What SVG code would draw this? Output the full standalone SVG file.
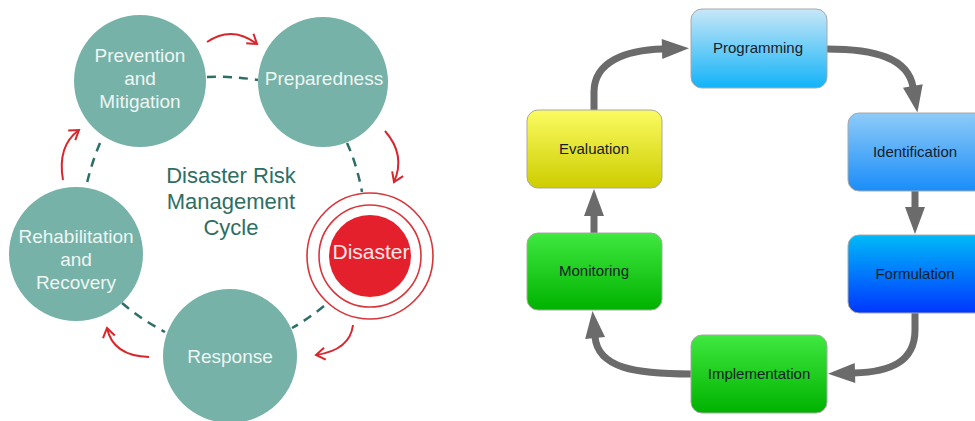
<svg xmlns="http://www.w3.org/2000/svg" width="975" height="421" viewBox="0 0 975 421">
<style>
.c{fill:#76b2a8}
.ct{font-family:"Liberation Sans",Arial,sans-serif;font-size:19px;fill:#eef6f3;text-anchor:middle}
.title{font-family:"Liberation Sans",Arial,sans-serif;font-size:22px;fill:#2e6e63;text-anchor:middle}
.dash{fill:none;stroke:#2f6e66;stroke-width:2.5;stroke-dasharray:9 7}
.red{fill:none;stroke:#d9262c;stroke-width:2;marker-end:url(#ra)}
.box{stroke:#a8a8a8;stroke-width:1}
.bt{font-family:"Liberation Sans",Arial,sans-serif;font-size:15px;fill:#15202a;text-anchor:middle}
.ga{fill:none;stroke:#6b6b6b;stroke-width:7;marker-end:url(#ga)}
</style>
<defs>
<marker id="ra" markerUnits="userSpaceOnUse" markerWidth="14" markerHeight="14" refX="11" refY="7" orient="auto" overflow="visible">
<path d="M2,1 L11,7 L2,13" fill="none" stroke="#d9262c" stroke-width="2"/>
</marker>
<marker id="ga" markerUnits="userSpaceOnUse" markerWidth="27" markerHeight="20" refX="1" refY="10" orient="auto" overflow="visible">
<path d="M0,0 L27,10 L0,20 z" fill="#6b6b6b"/>
</marker>
<linearGradient id="gProg" x1="0" y1="0" x2="0" y2="1"><stop offset="0" stop-color="#c8e7f7"/><stop offset="1" stop-color="#12b3f8"/></linearGradient>
<linearGradient id="gIden" x1="0" y1="0" x2="0" y2="1"><stop offset="0" stop-color="#8ecbf9"/><stop offset="1" stop-color="#1a8df8"/></linearGradient>
<linearGradient id="gForm" x1="0" y1="0" x2="0" y2="1"><stop offset="0" stop-color="#00baf8"/><stop offset="1" stop-color="#0036ff"/></linearGradient>
<linearGradient id="gEval" x1="0" y1="0" x2="0" y2="1"><stop offset="0" stop-color="#fbfb62"/><stop offset="1" stop-color="#cdcd00"/></linearGradient>
<linearGradient id="gGreen" x1="0" y1="0" x2="0" y2="1"><stop offset="0" stop-color="#40e840"/><stop offset="1" stop-color="#00b200"/></linearGradient>
</defs>

<g id="connectors">
<path class="dash" d="M207,77 Q232,76 258,80"/>
<path class="dash" d="M100,143 Q90,167 85,192"/>
<path class="dash" d="M347,143 Q357,165 362,192"/>
<path class="dash" d="M324,306 Q308,319 292,328"/>
<path class="dash" d="M122,303 Q142,320 165,332"/>
<path class="red" d="M207,42 Q232,25 257,44"/>
<path class="red" d="M385,131 Q406,155 394,182"/>
<path class="red" d="M353,325 Q350,350 316,355"/>
<path class="red" d="M149,357 Q113,356 107,328"/>
<path class="red" d="M63,180 Q57,146 79,130"/>
<path class="ga" d="M594,110 L594,92 C594,62 625,50 663,49"/>
<path class="ga" d="M827,49 C875,49 908,58 913,87"/>
<path class="ga" d="M915,191 L915,208"/>
<path class="ga" d="M915,313 L915,330 C915,362 890,372 854,373"/>
<path class="ga" d="M691,374 C635,374 598,368 595,337"/>
<path class="ga" d="M594,233 L594,215"/>
</g>

<g id="title">
<text class="title" x="231" y="183">Disaster Risk</text>
<text class="title" x="231" y="209">Management</text>
<text class="title" x="231" y="235">Cycle</text>
</g>

<g id="prevention">
<circle class="c" cx="140" cy="81" r="66"/>
<text class="ct" x="140" y="62">Prevention</text>
<text class="ct" x="140" y="85">and</text>
<text class="ct" x="140" y="108">Mitigation</text>
</g>
<g id="preparedness">
<circle class="c" cx="323" cy="82" r="65"/>
<text class="ct" x="324" y="85">Preparedness</text>
</g>
<g id="disaster">
<circle cx="370" cy="256" r="63" fill="none" stroke="#d9353a" stroke-width="1.6"/>
<circle cx="370" cy="256" r="51" fill="none" stroke="#d9353a" stroke-width="1.6"/>
<circle cx="370" cy="256" r="41" fill="#e3202b"/>
<text x="371" y="259" font-family="Liberation Sans, Arial, sans-serif" font-size="21" fill="#fbe6e6" text-anchor="middle">Disaster</text>
</g>
<g id="response">
<circle class="c" cx="230" cy="356" r="67"/>
<text class="ct" x="230" y="363">Response</text>
</g>
<g id="rehabilitation">
<circle class="c" cx="76" cy="254" r="67"/>
<text class="ct" x="76" y="243">Rehabilitation</text>
<text class="ct" x="76" y="266">and</text>
<text class="ct" x="76" y="289">Recovery</text>
</g>

<g id="programming">
<rect class="box" x="691" y="9" width="136" height="79" rx="11" fill="url(#gProg)"/>
<text class="bt" x="758" y="53">Programming</text>
</g>
<g id="identification">
<rect class="box" x="848" y="113" width="140" height="78" rx="11" fill="url(#gIden)"/>
<text class="bt" x="915" y="157">Identification</text>
</g>
<g id="formulation">
<rect class="box" x="848" y="235" width="140" height="78" rx="11" fill="url(#gForm)"/>
<text class="bt" x="915" y="279">Formulation</text>
</g>
<g id="implementation">
<rect class="box" x="691" y="335" width="136" height="78" rx="11" fill="url(#gGreen)"/>
<text class="bt" x="759" y="379">Implementation</text>
</g>
<g id="monitoring">
<rect class="box" x="527" y="233" width="135" height="77" rx="11" fill="url(#gGreen)"/>
<text class="bt" x="594" y="276">Monitoring</text>
</g>
<g id="evaluation">
<rect class="box" x="527" y="110" width="135" height="78" rx="11" fill="url(#gEval)"/>
<text class="bt" x="594" y="154">Evaluation</text>
</g>
</svg>
